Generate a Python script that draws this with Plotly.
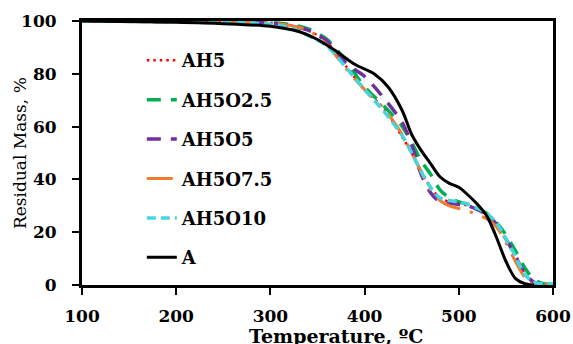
import plotly.graph_objects as go

# Temperatures (ºC)
T_A = [100, 200, 250, 300, 330, 350, 370, 390, 410, 425, 440, 450, 460, 470, 480, 490, 500, 510, 520, 530, 540, 550, 560, 570, 580]
A = [100, 99.5, 99, 98, 96, 93, 88.5, 83.5, 80, 75, 66, 57, 51, 46, 41, 38.5, 37, 34, 30.5, 26, 18, 9, 2.5, 0.5, 0]

T = [100, 200, 250, 300, 320, 340, 360, 380, 400, 420, 440, 450, 460, 470, 480, 490, 500, 510, 520, 530, 540, 550, 560, 570, 580, 590, 600]
AH5 = [100, 99.8, 99.7, 99.3, 98.5, 96.5, 92, 83, 74, 67, 56, 50, 43, 37, 33, 31.5, 31, 30, 28.5, 26.5, 23, 17, 11.5, 4.5, 0.5, 0.3, 0.3]
AH5O2_5 = [100, 99.8, 99.7, 99.4, 98.7, 97, 93, 85, 75, 68, 60, 54, 47, 42, 36, 33, 31.5, 30.5, 29, 27, 23.6, 19, 13, 6.5, 2, 0.5, 0.5]
AH5O5 = [100, 99.8, 99.6, 99.2, 98.3, 96.5, 92.5, 84, 79, 71, 61.5, 53, 42, 35, 31.5, 31, 30.5, 30, 28.5, 26.5, 23, 17.5, 11, 4.5, 1, 0.5, 0.5]
AH5O7_5 = [100, 99.8, 99.6, 99.2, 98.4, 96.5, 91, 82, 74, 67, 57, 50, 43, 36, 32, 30, 29, 28, 26.5, 25, 22, 16, 9, 3, 0.8, 0.5, 0.5]
AH5O10 = [100, 99.7, 99.5, 98.8, 97.5, 94.5, 90.5, 82.5, 74, 66, 56.5, 50, 43, 37, 33, 32, 31.5, 30.5, 29, 27, 23.5, 17.5, 11, 4, 1, 0.5, 0.5]

series = [
    ("AH5", T, AH5, "#FF0000", "2.5px,4px", 2.5),
    ("AH5O2.5", T, AH5O2_5, "#00B050", "14px,10px", 3.5),
    ("AH5O5", T, AH5O5, "#7030A0", "14px,10px", 3.5),
    ("AH5O7.5", T, AH5O7_5, "#ED7D31", "26px,10px,3px,10px", 3),
    ("AH5O10", T, AH5O10, "#48D4DE", "9px,5px", 3.5),
    ("A", T_A, A, "#000000", "solid", 3),
]

FONT = "DejaVu Serif"

fig = go.Figure()
for i, (name, x, y, color, dash, w) in enumerate(series):
    fig.add_trace(go.Scatter(
        x=x, y=y, name=name, mode="lines", legendgroup=f"g{i}",
        line=dict(color=color, dash=dash, width=w, shape="spline", smoothing=0.8),
    ))

axis_common = dict(
    showgrid=False, zeroline=False, showline=True, linecolor="black", linewidth=3,
    mirror=True, ticks="outside", ticklen=7, tickwidth=2, tickcolor="black",
    automargin=False,
    tickfont=dict(family=FONT, size=17, color="black", weight="bold"),
)

fig.update_layout(
    width=573, height=344,
    margin=dict(l=82, r=20, t=21, b=59, autoexpand=False),
    paper_bgcolor="white", plot_bgcolor="white",
    showlegend=True,
    legend=dict(
        x=0.127, y=0.92, xanchor="left", yanchor="top",
        bgcolor="rgba(0,0,0,0)", tracegroupgap=13,
        font=dict(family=FONT, size=18, color="black", weight="bold"),
    ),
    xaxis=dict(range=[100, 600], dtick=100, tick0=100, ticklabelstandoff=7, **axis_common),
    yaxis=dict(range=[0, 100], dtick=20, tick0=0, ticklabelstandoff=12, **axis_common),
    annotations=[
        dict(text="Temperature, ºC", xref="paper", yref="paper", x=(336 - 82) / 471, y=-0.145,
             xanchor="center", yanchor="top", showarrow=False,
             font=dict(family=FONT, size=19, color="black", weight="bold")),
        dict(text="Residual Mass, %", xref="paper", yref="paper", x=(20 - 82) / 471, y=0.5,
             xanchor="center", yanchor="middle", textangle=-90, showarrow=False,
             font=dict(family=FONT, size=17, color="black")),
    ],
)

fig.write_html(
    "out.html",
    config={"displayModeBar": False},
    post_script="document.body.style.margin='0';document.body.style.overflow='hidden';",
)
